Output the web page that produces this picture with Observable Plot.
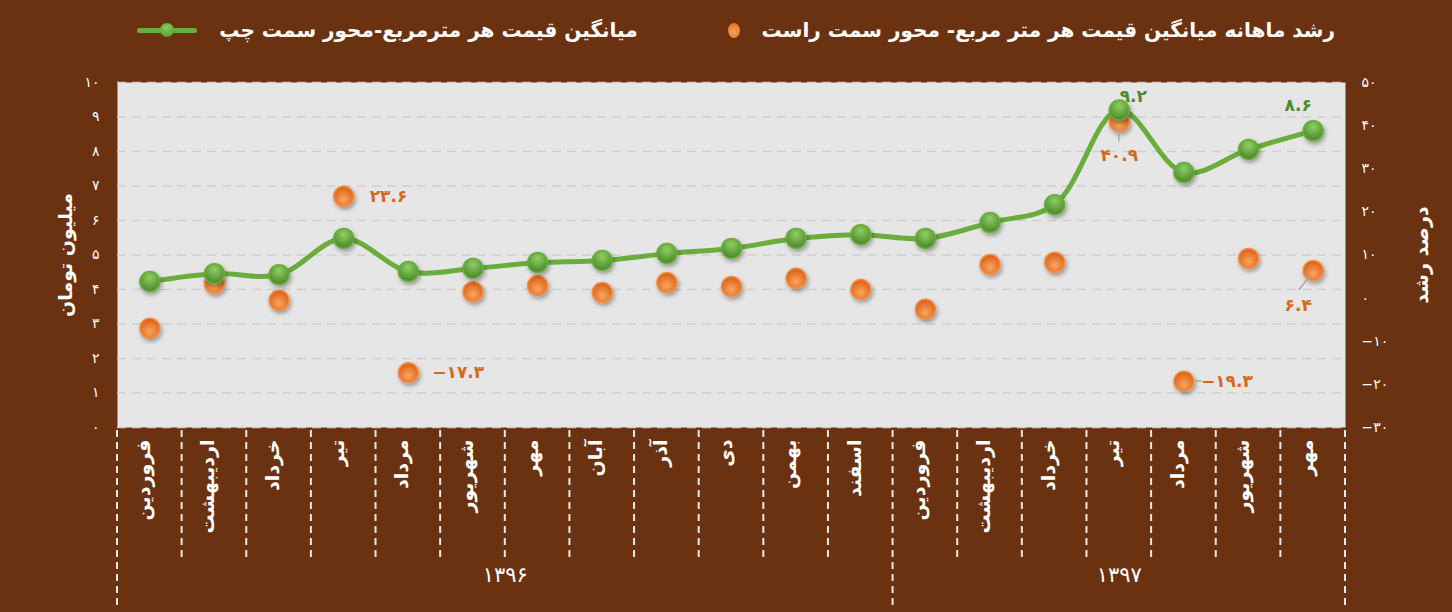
<!DOCTYPE html>
<html><head><meta charset="utf-8">
<script src="https://cdn.jsdelivr.net/npm/d3@7"></script>
<script src="https://cdn.jsdelivr.net/npm/@observablehq/plot@0.6"></script>
<style>
body{margin:0;background:#6A3210;width:1452px;height:612px;overflow:hidden;font-family:"DejaVu Sans",sans-serif;}
#legend{height:60px;display:flex;direction:rtl;align-items:center;padding-right:117px;gap:90px;color:#fff;font-weight:bold;font-size:20px;}
.item{display:flex;align-items:center;gap:22px;white-space:nowrap;}
.odot{width:12px;height:15px;border-radius:50%;background:radial-gradient(circle at 45% 60%,#F7A35C,#E0661A);}
.gline{position:relative;width:60px;height:5px;background:#6AAD3D;border-radius:2px;margin-left:7px;}
.gline::after{content:"";position:absolute;left:23px;top:-5px;width:14px;height:14px;border-radius:50%;background:radial-gradient(circle at 50% 35%,#8ACB5C,#4F8F2E);}
svg{display:block;}
</style></head>
<body>
<div id="legend">
  <div class="item"><span>رشد ماهانه میانگین قیمت هر متر مربع- محور سمت راست</span><span class="odot"></span></div>
  <div class="item"><span>میانگین قیمت هر مترمربع-محور سمت چپ</span><span class="gline"></span></div>
</div>
<div id="chart"></div>
<script>
const months = ["فروردین","اردیبهشت","خرداد","تیر","مرداد","شهریور","مهر","آبان","آذر","دی","بهمن","اسفند","فروردین","اردیبهشت","خرداد","تیر","مرداد","شهریور","مهر"];
const price = [4.23,4.46,4.43,5.48,4.52,4.61,4.78,4.84,5.04,5.19,5.48,5.59,5.48,5.94,6.46,9.2,7.39,8.06,8.6];
const growth = [-7.0,3.4,-0.5,23.6,-17.3,1.5,2.9,1.3,3.6,2.7,4.6,2.0,-2.6,7.8,8.3,40.9,-19.3,9.2,6.4];
const years = [{label:"۱۳۹۶", first:0, last:11},{label:"۱۳۹۷", first:12, last:18}];
const leftTicks = [0,1,2,3,4,5,6,7,8,9,10];
const rightTicks = [-30,-20,-10,0,10,20,30,40,50];
const priceLabelIdx = [15,18];
const growthLabelIdx = [3,4,15,16,18];

const fa = s => String(s).replace(/\d/g, d => "۰۱۲۳۴۵۶۷۸۹"[d]).replace("-", "−");
const toLeft = r => (r + 30) / 8;
const fromLeft = v => Math.round(v * 8 - 30);

const data = months.map((m, i) => ({i, month: m, price: price[i], growth: growth[i], g: toLeft(growth[i])}));

const priceLabelStyle = {15:{dx:14,dy:-14,anchor:"middle"}, 18:{dx:-15,dy:-25,anchor:"middle"}};
const growthLabelStyle = {3:{dx:26,dy:0,anchor:"start"}, 4:{dx:24,dy:0,anchor:"start"}, 15:{dx:0,dy:34,anchor:"middle"}, 16:{dx:17,dy:0,anchor:"start"}, 18:{dx:-15,dy:35,anchor:"middle"}};

const font = "DejaVu Sans";
const plot = Plot.plot({
  width: 1452, height: 552,
  marginTop: 22, marginBottom: 185, marginLeft: 117, marginRight: 107,
  style: {background: "transparent", fontFamily: font, overflow: "visible"},
  x: {domain: [-0.5, months.length - 0.5], axis: null},
  y: {domain: [0, 10], axis: null},
  marks: [
    Plot.frame({fill: "#E6E6E6", stroke: null}),
    Plot.gridY(leftTicks, {stroke: "#CFCFCF", strokeOpacity: 1, strokeWidth: 1.5, strokeDasharray: "9,6"}),
    Plot.axisY(leftTicks, {anchor: "left", tickSize: 0, tickPadding: 18, tickFormat: fa, color: "#fff", fontSize: 14}),
    Plot.axisY(rightTicks.map(toLeft), {anchor: "right", tickSize: 0, tickPadding: 16, tickFormat: v => fa(fromLeft(v)), color: "#fff", fontSize: 14, textAnchor: "start"}),
    Plot.text(["میلیون تومان"], {frameAnchor: "left", dx: -52, rotate: -90, textAnchor: "middle", fill: "#fff", fontSize: 19, fontWeight: "bold"}),
    Plot.text(["درصد رشد"], {frameAnchor: "right", dx: 76, rotate: -90, textAnchor: "middle", fill: "#fff", fontSize: 19, fontWeight: "bold"}),
    Plot.line(data, {x: "i", y: "price", stroke: "#6AAD3D", strokeWidth: 5, curve: "catmull-rom"}),
    Plot.dot(data, {x: "i", y: "g", r: 10, fill: "url(#gOrange)", stroke: "#F08E44", strokeWidth: 1.5}),
    Plot.dot(data, {x: "i", y: "price", r: 10, fill: "url(#gGreen)", stroke: "#6AAD3D", strokeWidth: 1.5}),
    ...priceLabelIdx.map(i => Plot.text([data[i]], {x: "i", y: "price", text: d => fa(d.price.toFixed(1)), dx: priceLabelStyle[i].dx, dy: priceLabelStyle[i].dy, textAnchor: priceLabelStyle[i].anchor, fill: "#4E8B2F", fontSize: 17, fontWeight: "bold"})),
    ...growthLabelIdx.map(i => Plot.text([data[i]], {x: "i", y: "g", text: d => fa(d.growth.toFixed(1)), dx: growthLabelStyle[i].dx, dy: growthLabelStyle[i].dy, textAnchor: growthLabelStyle[i].anchor, fill: "#D2691E", fontSize: 17, fontWeight: "bold"})),
    Plot.text(data, {x: "i", text: "month", frameAnchor: "bottom", dy: 12, rotate: -90, textAnchor: "end", fill: "#fff", fontSize: 19, fontWeight: "bold"}),
    Plot.text(years, {x: d => (d.first + d.last) / 2, text: "label", frameAnchor: "bottom", dy: 154, textAnchor: "middle", fill: "#fff", fontSize: 21})
  ]
});

const svg = d3.select(plot);
const defs = svg.insert("defs", ":first-child");
const go = defs.append("radialGradient").attr("id", "gOrange").attr("cx", "50%").attr("cy", "65%").attr("r", "60%");
go.append("stop").attr("offset", "0%").attr("stop-color", "#F9A660");
go.append("stop").attr("offset", "100%").attr("stop-color", "#DD6116");
const gg = defs.append("radialGradient").attr("id", "gGreen").attr("cx", "50%").attr("cy", "30%").attr("r", "65%");
gg.append("stop").attr("offset", "0%").attr("stop-color", "#8FCF63");
gg.append("stop").attr("offset", "100%").attr("stop-color", "#4C8A2C");
const f = defs.append("filter").attr("id", "shadow").attr("x", "-50%").attr("y", "-50%").attr("width", "200%").attr("height", "200%");
f.append("feDropShadow").attr("dx", 1.5).attr("dy", 2.5).attr("stdDeviation", 2).attr("flood-color", "#000").attr("flood-opacity", 0.35);
svg.selectAll('g[aria-label="dot"]').attr("filter", "url(#shadow)");

const xs = plot.scale("x"), ys = plot.scale("y");
const yTop = ys.apply(0) + 3;
const sep = svg.append("g").attr("stroke", "#E8E8E8").attr("stroke-width", 2).attr("stroke-dasharray", "7,5");
const yearBounds = new Set([years[0].first, years[1].first, years[1].last + 1]);
for (let b = 0; b <= months.length; b++) {
  const X = xs.apply(b - 0.5);
  sep.append("line").attr("x1", X).attr("x2", X).attr("y1", yTop).attr("y2", yearBounds.has(b) ? 545 : 497);
}
const lead = svg.append("g").attr("stroke", "#A8A8A8").attr("stroke-width", 1.5);
[[15, 0, 6, 0, 20], [18, -2, 5, -14, 20], [16, 10, 0, 18, 0]].forEach(([i, ax, ay, bx, by]) => {
  const X = xs.apply(i), Y = ys.apply(toLeft(growth[i]));
  lead.append("line").attr("x1", X + ax).attr("y1", Y + ay).attr("x2", X + bx).attr("y2", Y + by);
});
document.getElementById("chart").append(plot);
</script>
</body></html>
